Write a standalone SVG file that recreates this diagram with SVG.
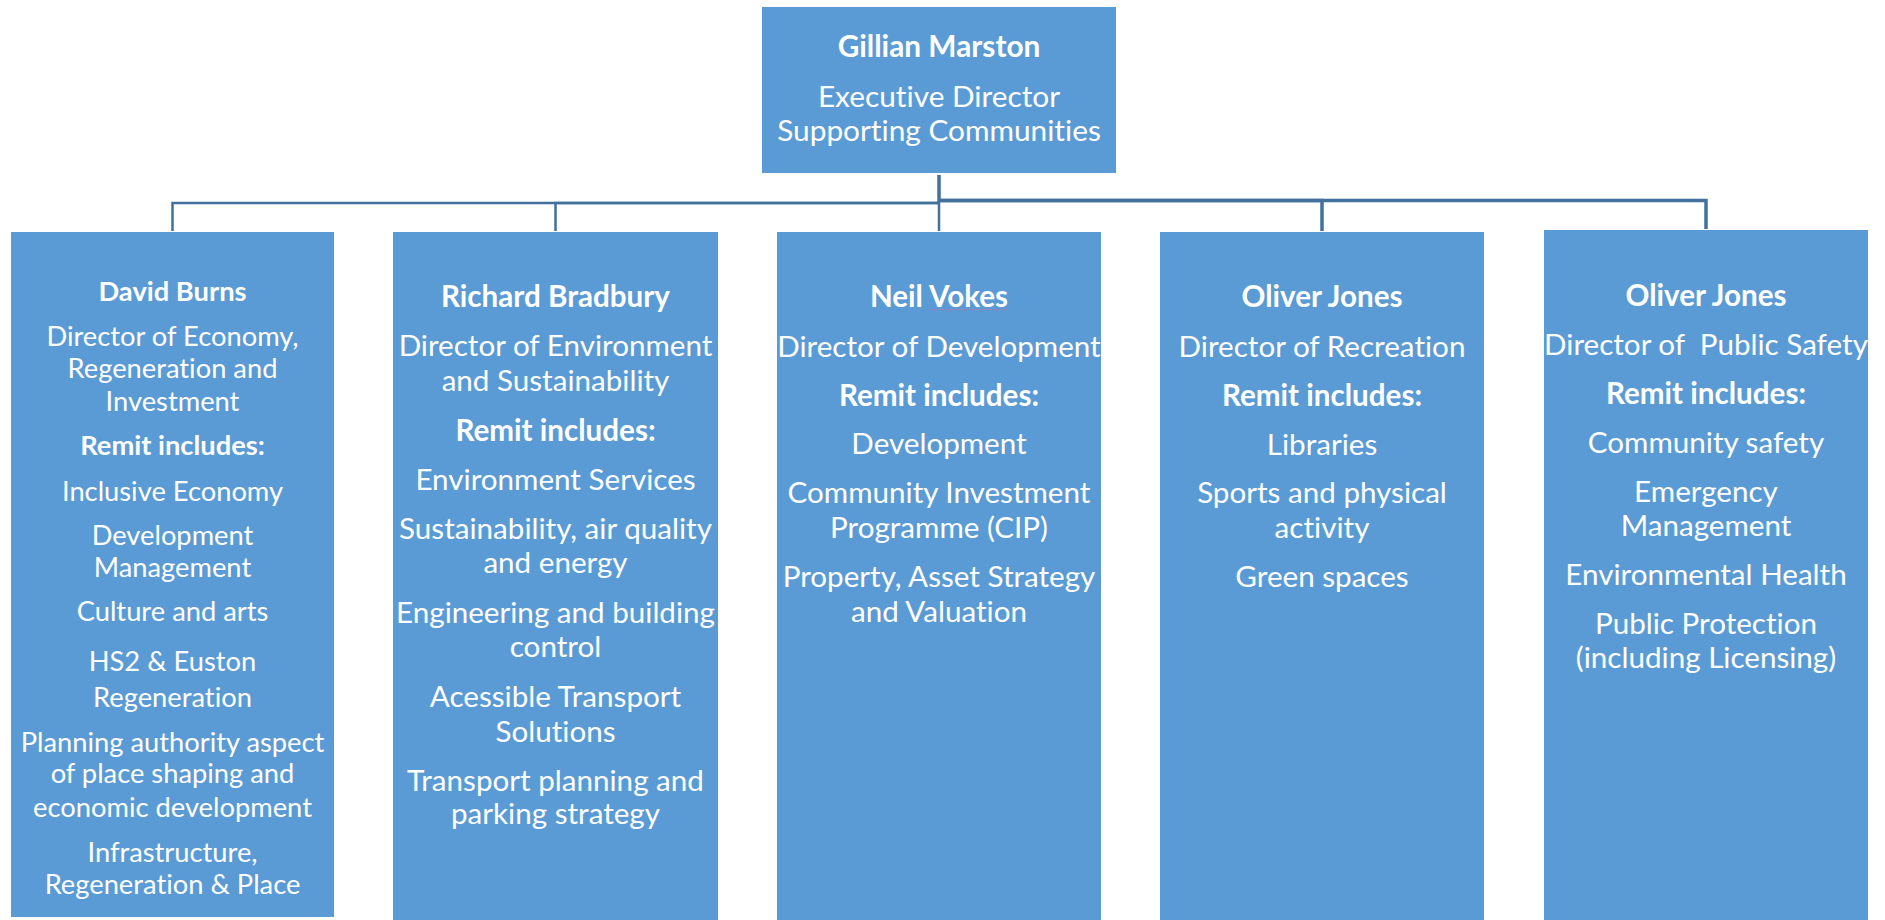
<svg xmlns="http://www.w3.org/2000/svg" width="1885" height="920" viewBox="0 0 1885 920">
<style>
.box{fill:#5B9BD5;}
text{fill:#ffffff;font-family:Lato,"Open Sans","Liberation Sans",sans-serif;text-anchor:middle;font-variant-ligatures:none;}
.t{font-size:29.8px;}
.t1{font-size:27.3px;}
.t2{font-size:29.6px;}
.b{font-weight:bold;}
.con{fill:none;stroke:#41719C;stroke-width:2.5;}
.conr{fill:none;stroke:#41719C;stroke-width:3.5;}
</style>
<rect width="1885" height="920" fill="#ffffff"/>
<g id="connectors">
<path class="con" d="M939,201 V231"/>
<path class="con" d="M939,203 H172.5 V231"/>
<path class="con" d="M939,203 H555.5 V231"/>
<path class="conr" d="M939,200.5 H1322 V231"/>
<path class="conr" d="M939,200.5 H1706 V229"/>
<path class="conr" d="M939,175 V202"/>
</g>
<g id="gillian-marston">
<rect class="box" x="762" y="7" width="354" height="166"/>
<text class="t b" x="939" y="57">Gillian Marston</text>
<text class="t" x="939" y="107">Executive Director</text>
<text class="t" x="939" y="141">Supporting Communities</text>
</g>
<g id="david-burns">
<rect class="box" x="11" y="232" width="323" height="685"/>
<g class="t1">
<text class="b" x="172.5" y="301">David Burns</text>
<text x="172.5" y="346">Director of Economy,</text>
<text x="172.5" y="378">Regeneration and</text>
<text x="172.5" y="411">Investment</text>
<text class="b" x="172.5" y="455">Remit includes:</text>
<text x="172.5" y="501">Inclusive Economy</text>
<text x="172.5" y="545">Development</text>
<text x="172.5" y="577">Management</text>
<text x="172.5" y="621">Culture and arts</text>
<text x="172.5" y="671">HS2 &amp; Euston</text>
<text x="172.5" y="707">Regeneration</text>
<text x="172.5" y="752">Planning authority aspect</text>
<text x="172.5" y="783">of place shaping and</text>
<text x="172.5" y="817">economic development</text>
<text x="172.5" y="862">Infrastructure,</text>
<text x="172.5" y="894">Regeneration &amp; Place</text>
</g>
</g>
<g id="richard-bradbury">
<rect class="box" x="393" y="232" width="325" height="688"/>
<g class="t2">
<text class="b" x="555.5" y="307">Richard Bradbury</text>
<text x="555.5" y="356">Director of Environment</text>
<text x="555.5" y="391">and Sustainability</text>
<text class="b" x="555.5" y="441">Remit includes:</text>
<text x="555.5" y="490">Environment Services</text>
<text x="555.5" y="539">Sustainability, air quality</text>
<text x="555.5" y="573">and energy</text>
<text x="555.5" y="623">Engineering and building</text>
<text x="555.5" y="657">control</text>
<text x="555.5" y="707">Acessible Transport</text>
<text x="555.5" y="742">Solutions</text>
<text x="555.5" y="791">Transport planning and</text>
<text x="555.5" y="824">parking strategy</text>
</g>
</g>
<g id="neil-vokes">
<rect class="box" x="777" y="232" width="324" height="688"/>
<g class="t2">
<text class="b" x="939" y="307">Neil Vokes</text>
<text x="939" y="357">Director of Development</text>
<text class="b" x="939" y="406">Remit includes:</text>
<text x="939" y="454">Development</text>
<text x="939" y="503">Community Investment</text>
<text x="939" y="538">Programme (CIP)</text>
<text x="939" y="587">Property, Asset Strategy</text>
<text x="939" y="622">and Valuation</text>
</g>
<line x1="930" y1="309.5" x2="1008" y2="309.5" stroke="#b07aa8" stroke-width="1" stroke-dasharray="2,1"/>
</g>
<g id="oliver-jones-recreation">
<rect class="box" x="1160" y="232" width="324" height="688"/>
<g class="t2">
<text class="b" x="1322" y="307">Oliver Jones</text>
<text x="1322" y="357">Director of Recreation</text>
<text class="b" x="1322" y="406">Remit includes:</text>
<text x="1322" y="455">Libraries</text>
<text x="1322" y="503">Sports and physical</text>
<text x="1322" y="538">activity</text>
<text x="1322" y="587">Green spaces</text>
</g>
</g>
<g id="oliver-jones-public-safety">
<rect class="box" x="1544" y="230" width="324" height="690"/>
<g class="t2">
<text class="b" x="1706" y="306">Oliver Jones</text>
<text x="1706" y="355" xml:space="preserve">Director of  Public Safety</text>
<text class="b" x="1706" y="404">Remit includes:</text>
<text x="1706" y="453">Community safety</text>
<text x="1706" y="502">Emergency</text>
<text x="1706" y="536">Management</text>
<text x="1706" y="585">Environmental Health</text>
<text x="1706" y="634">Public Protection</text>
<text x="1706" y="668">(including Licensing)</text>
</g>
</g>
</svg>
